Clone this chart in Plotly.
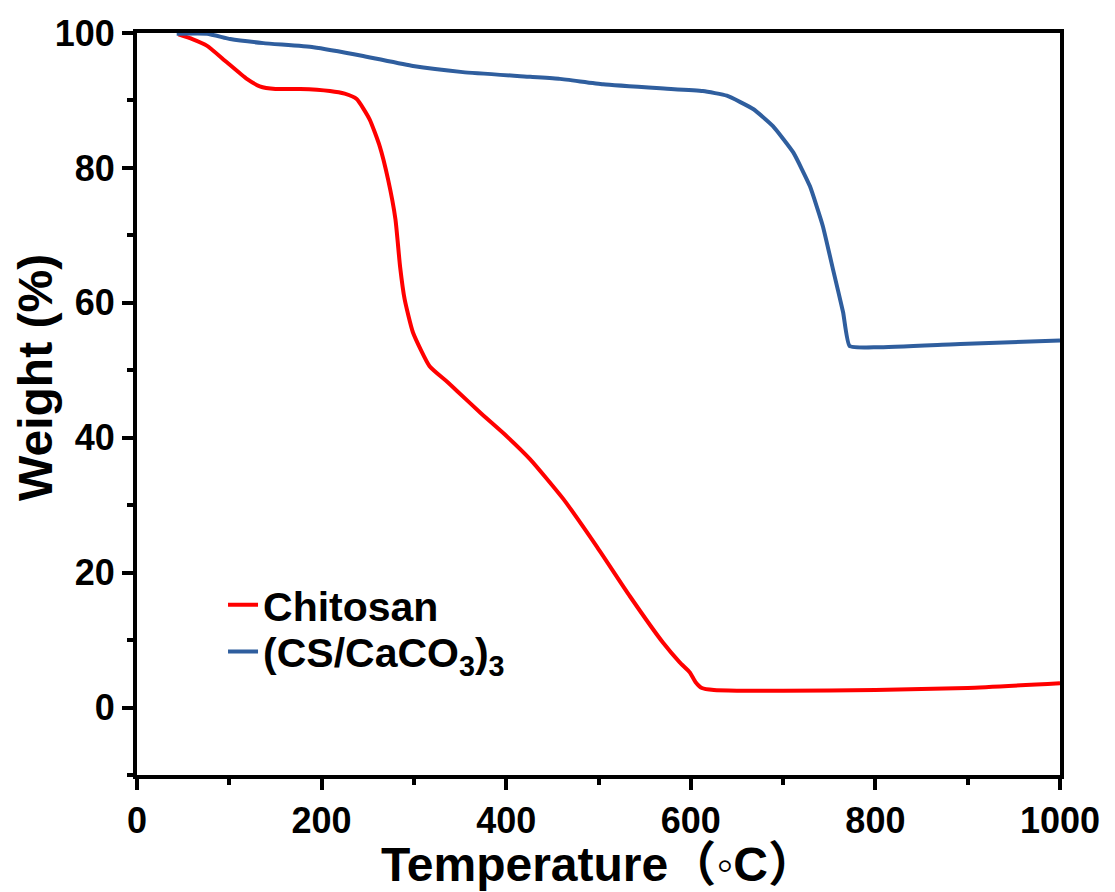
import plotly.graph_objects as go

# Chitosan TGA curve
chitosan_T = [45, 60, 76, 97, 119, 133, 150, 177, 209, 225, 238, 252, 263, 272, 280, 285,
              290, 299, 317, 336, 347, 372, 400, 426, 462, 498, 534, 570, 588, 599, 605,
              612, 625, 650, 700, 800, 900, 1000]
chitosan_W = [99.8, 99.1, 98.1, 95.7, 93.2, 92.1, 91.7, 91.7, 91.4, 91.0, 90.2, 87.2, 83.2,
              78.3, 72.4, 65.4, 60.5, 55.6, 50.6, 48.3, 46.9, 43.7, 40.3, 36.8, 30.9, 23.9,
              16.5, 9.6, 6.7, 5.2, 3.8, 2.9, 2.6, 2.5, 2.5, 2.6, 2.9, 3.6]

# (CS/CaCO3)3 TGA curve
comp_T = [43, 76, 101, 137, 191, 245, 299, 353, 426, 458, 505, 567, 613, 639, 668, 689,
          711, 729, 743, 754, 765, 772, 802, 892, 1000]
comp_W = [99.9, 99.9, 99.1, 98.5, 97.9, 96.6, 95.1, 94.2, 93.5, 93.2, 92.4, 91.8, 91.4,
          90.7, 88.7, 86.2, 82.3, 77.3, 71.4, 65.0, 58.6, 53.6, 53.4, 53.9, 54.4]

x_ticks = [0, 200, 400, 600, 800, 1000]
y_ticks = [0, 20, 40, 60, 80, 100]

FONT = "Liberation Sans, Arial, Noto Sans CJK SC, sans-serif"

fig = go.Figure()
fig.add_trace(go.Scatter(x=chitosan_T, y=chitosan_W, mode="lines", name="<b>Chitosan</b>",
                         line=dict(color="#FF0000", width=4, shape="spline", smoothing=0.5),
                         legend="legend"))
fig.add_trace(go.Scatter(x=comp_T, y=comp_W, mode="lines",
                         name="<b>(CS/CaCO<sub>3</sub>)<sub>3</sub></b>",
                         line=dict(color="#2F5E9E", width=4, shape="spline", smoothing=0.4),
                         legend="legend2"))

axis_common = dict(showline=True, mirror=True, linewidth=4, linecolor="black",
                   ticks="outside", ticklen=11, tickwidth=4, tickcolor="black",
                   showgrid=False, zeroline=False, automargin=False,
                   tickfont=dict(family=FONT, size=36, color="black", weight="bold"))

fig.update_xaxes(range=[0, 1000], tickvals=x_ticks, ticktext=[str(v) for v in x_ticks],
                 minor=dict(dtick=100, tick0=0, ticklen=6, tickwidth=4, ticks="outside",
                            tickcolor="black"),
                 **axis_common)
fig.update_yaxes(range=[-10, 100], tickvals=y_ticks, ticktext=[str(v) for v in y_ticks],
                 minor=dict(dtick=10, tick0=0, ticklen=6, tickwidth=4, ticks="outside",
                            tickcolor="black"),
                 **axis_common)

fig.add_annotation(text="<b>Temperature（◦C）</b>", xref="paper", yref="paper",
                   x=0.5, y=-0.120, xanchor="center", yanchor="middle", showarrow=False,
                   font=dict(family=FONT, size=48, color="black"))
fig.add_annotation(text="<b>Weight (%)</b>", xref="paper", yref="paper",
                   x=-0.1095, y=0.5364, xanchor="center", yanchor="middle", showarrow=False,
                   textangle=-90, font=dict(family=FONT, size=48, color="black"))

legend_common = dict(xanchor="left", yanchor="middle", bgcolor="rgba(0,0,0,0)",
                     font=dict(family=FONT, size=41, color="black"))

fig.update_layout(width=1107, height=884,
                  margin=dict(l=129, r=55, t=25, b=117),
                  paper_bgcolor="white", plot_bgcolor="white",
                  showlegend=True,
                  legend=dict(x=0.0932, y=0.229, **legend_common),
                  legend2=dict(x=0.0932, y=0.166, **legend_common))

fig.write_html("out.html")
